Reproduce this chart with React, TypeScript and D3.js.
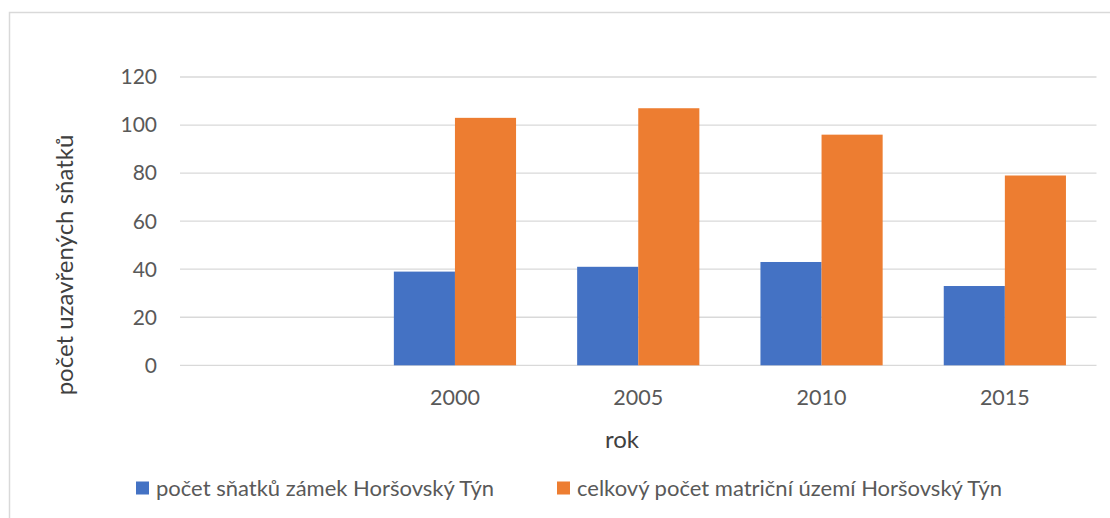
import React, { useEffect } from 'react';
import * as d3 from 'd3';

// years on the x axis (first slot is empty in the source chart)
const years = ['', '2000', '2005', '2010', '2015'];
const zamek: (number | null)[] = [null, 39, 41, 43, 33];
const celkem: (number | null)[] = [null, 103, 107, 96, 79];
const seriesNames = ['počet sňatků zámek Horšovský Týn', 'celkový počet matriční území Horšovský Týn'];
const yTicks = [0, 20, 40, 60, 80, 100, 120];

const colors = ['#4472C4', '#ED7D31'];
const font = 'Lato, Carlito, Calibri, sans-serif';

const App: React.FC = () => {
  useEffect(() => {
    document.body.style.margin = '0';
  }, []);

  const width = 1110;
  const height = 518;

  const x = d3.scaleBand<string>()
    .domain(years)
    .range([180, 1096.5])
    .paddingInner(1 / 3)
    .paddingOuter(1 / 6);

  const xs = d3.scaleBand<number>()
    .domain([0, 1])
    .range([0, x.bandwidth()]);

  const y = d3.scaleLinear()
    .domain([0, 120])
    .range([365.3, 77]);

  const series = [zamek, celkem];

  return (
    <svg width={width} height={height} style={{ display: 'block', background: '#fff' }}>
      {/* chart area border (runs off the right and bottom) */}
      <rect x={9.5} y={12.5} width={1200} height={600} fill="#fff" stroke="#D9D9D9" strokeWidth={1.5} />

      {yTicks.map(t => (
        <g key={t}>
          <line x1={180} x2={1096.5} y1={y(t)} y2={y(t)} stroke="#D9D9D9" strokeWidth={1.3} />
          <text x={157} y={y(t)} dy="0.35em" textAnchor="end" fontFamily={font} fontSize={21} fill="#595959">{t}</text>
        </g>
      ))}

      {series.map((vals, si) => (
        <g key={si}>
          {vals.map((v, i) => v == null ? null : (
            <rect
              key={i}
              x={(x(years[i]) as number) + (xs(si) as number)}
              y={y(v)}
              width={xs.bandwidth()}
              height={y(0) - y(v)}
              fill={colors[si]}
            />
          ))}
        </g>
      ))}

      {years.map(yr => (
        <text key={yr} x={(x(yr) as number) + x.bandwidth() / 2} y={397} dy="0.35em" textAnchor="middle" fontFamily={font} fontSize={21.5} fill="#595959">{yr}</text>
      ))}

      <text x={622} y={440} dy="0.35em" textAnchor="middle" fontFamily={font} fontSize={24} fill="#404040">rok</text>
      <text transform="translate(65,265) rotate(-90)" dy="0.35em" textAnchor="middle" fontFamily={font} fontSize={24} fill="#404040">počet uzavřených sňatků</text>

      {/* legend */}
      {seriesNames.map((name, i) => {
        const lx = i === 0 ? 136 : 557;
        return (
          <g key={name} transform={`translate(${lx},488)`}>
            <rect x={0} y={-6.5} width={13} height={13} fill={colors[i]} />
            <text x={20} y={0} dy="0.35em" fontFamily={font} fontSize={22} fill="#595959">{name}</text>
          </g>
        );
      })}
    </svg>
  );
};

export default App;
